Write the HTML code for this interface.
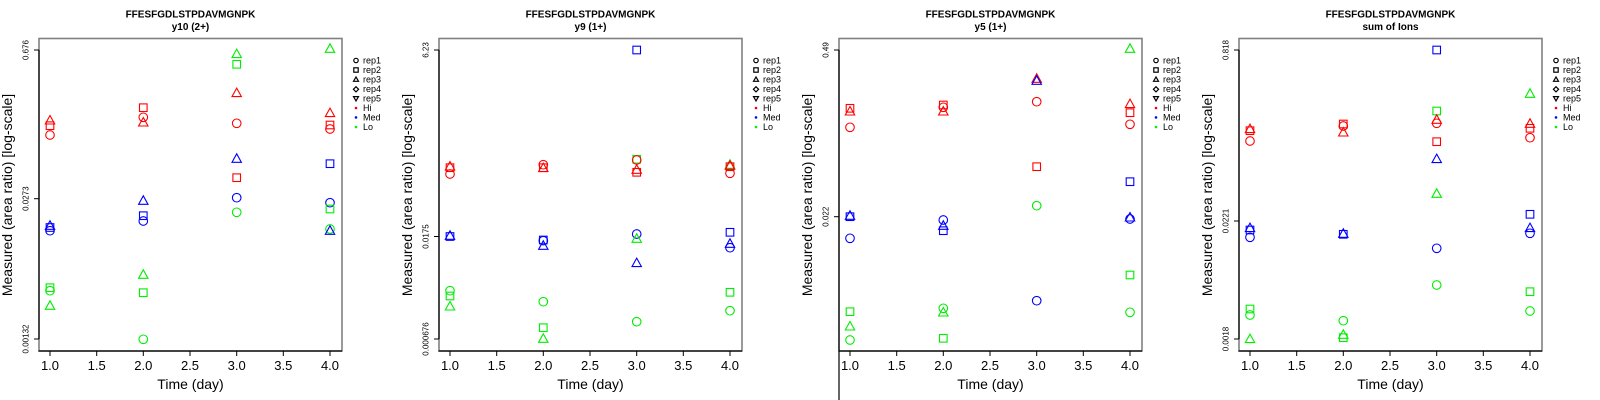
<!DOCTYPE html>
<html><head><meta charset="utf-8"><style>
html,body{margin:0;padding:0;background:#fff;}
svg{display:block;}
text{font-family:"Liberation Sans",sans-serif;}
.t{font-size:10px;font-weight:bold;text-anchor:middle;fill:#000;}
.xt{font-size:13px;text-anchor:middle;fill:#000;}
.xl{font-size:14px;text-anchor:middle;fill:#000;}
.yt{font-size:8px;text-anchor:middle;fill:#000;}
.lg{font-size:9px;fill:#000;}
.R{stroke:#ff0000;fill:none;stroke-width:1.1;}
.B{stroke:#0000ff;fill:none;stroke-width:1.1;}
.G{stroke:#00ee00;fill:none;stroke-width:1.1;}
</style></head><body>
<svg width="1600" height="400" viewBox="0 0 1600 400" xmlns="http://www.w3.org/2000/svg">
<defs>
<circle id="c" cx="0" cy="0" r="4.3"/>
<rect id="s" x="-3.8" y="-3.8" width="7.6" height="7.6"/>
<polygon id="t" points="0,-5.2 -4.7,3.3 4.7,3.3"/>
<g id="frame">
  <rect x="39" y="38.5" width="303" height="312.5" fill="none" stroke="#808080" stroke-width="1.6"/>
  <line x1="38.5" y1="351" x2="342" y2="351" stroke="#000" stroke-width="1.2"/>
  <g stroke="#000" stroke-width="1">
    <line x1="50" y1="351" x2="50" y2="356"/>
    <line x1="96.7" y1="351" x2="96.7" y2="356"/>
    <line x1="143.3" y1="351" x2="143.3" y2="356"/>
    <line x1="190" y1="351" x2="190" y2="356"/>
    <line x1="236.7" y1="351" x2="236.7" y2="356"/>
    <line x1="283.3" y1="351" x2="283.3" y2="356"/>
    <line x1="330" y1="351" x2="330" y2="356"/>
  </g>
  <text class="xt" x="50" y="370">1.0</text>
  <text class="xt" x="96.7" y="370">1.5</text>
  <text class="xt" x="143.3" y="370">2.0</text>
  <text class="xt" x="190" y="370">2.5</text>
  <text class="xt" x="236.7" y="370">3.0</text>
  <text class="xt" x="283.3" y="370">3.5</text>
  <text class="xt" x="330" y="370">4.0</text>
  <text class="xl" x="190.5" y="389">Time (day)</text>
  <text class="xl" transform="translate(12,195) rotate(-90)">Measured (area ratio) [log-scale]</text>
  <g>
    <circle cx="356" cy="60.5" r="2.2" fill="none" stroke="#000" stroke-width="1.2"/>
    <rect x="353.8" y="67.8" width="4.4" height="4.4" fill="none" stroke="#000" stroke-width="1.2"/>
    <polygon points="356,77 353.5,81.3 358.5,81.3" fill="none" stroke="#000" stroke-width="1.2"/>
    <polygon points="356,86.7 358.6,89.3 356,91.9 353.4,89.3" fill="none" stroke="#000" stroke-width="1.2"/>
    <polygon points="353.5,96.6 358.5,96.6 356,100.9" fill="none" stroke="#000" stroke-width="1.2"/>
    <circle cx="356" cy="108" r="1.3" fill="#ff0000"/>
    <circle cx="356" cy="117.4" r="1.3" fill="#0000ff"/>
    <circle cx="356" cy="127" r="1.3" fill="#00ee00"/>
    <text class="lg" x="363" y="63.7">rep1</text>
    <text class="lg" x="363" y="73.2">rep2</text>
    <text class="lg" x="363" y="82.7">rep3</text>
    <text class="lg" x="363" y="92.2">rep4</text>
    <text class="lg" x="363" y="101.7">rep5</text>
    <text class="lg" x="363" y="111.2">Hi</text>
    <text class="lg" x="363" y="120.7">Med</text>
    <text class="lg" x="363" y="130.2">Lo</text>
  </g>
  <text class="t" x="190.5" y="17.5">FFESFGDLSTPDAVMGNPK</text>
</g>
</defs>

<!-- Panel 1 -->
<g transform="translate(0,0)">
<use href="#frame"/>
<text class="t" x="190.5" y="30">y10 (2+)</text>
<line x1="39" y1="50" x2="39" y2="339" stroke="#000" stroke-width="1.2"/>
<g stroke="#000" stroke-width="1"><line x1="34" y1="50" x2="39" y2="50"/><line x1="34" y1="198.7" x2="39" y2="198.7"/><line x1="34" y1="339" x2="39" y2="339"/></g>
<text class="yt" transform="translate(28.5,50) rotate(-90)">0.676</text>
<text class="yt" transform="translate(28.5,198.7) rotate(-90)">0.0273</text>
<text class="yt" transform="translate(28.5,339) rotate(-90)">0.00132</text>
<use href="#t" class="R" x="50" y="120.7"/><use href="#s" class="R" x="50" y="125.7"/><use href="#c" class="R" x="50" y="135"/>
<use href="#t" class="B" x="50" y="226"/><use href="#s" class="B" x="50" y="227.5"/><use href="#c" class="B" x="50" y="230.7"/>
<use href="#s" class="G" x="50" y="287.7"/><use href="#c" class="G" x="50" y="290.7"/><use href="#t" class="G" x="50" y="306"/>
<use href="#s" class="R" x="143.3" y="107.7"/><use href="#c" class="R" x="143.3" y="117.3"/><use href="#t" class="R" x="143.3" y="122.7"/>
<use href="#t" class="B" x="143.3" y="201"/><use href="#s" class="B" x="143.3" y="215.7"/><use href="#c" class="B" x="143.3" y="221"/>
<use href="#t" class="G" x="143.3" y="275"/><use href="#s" class="G" x="143.3" y="292.7"/><use href="#c" class="G" x="143.3" y="339.3"/>
<use href="#t" class="G" x="236.7" y="54.3"/><use href="#s" class="G" x="236.7" y="64.3"/><use href="#t" class="R" x="236.7" y="93.3"/><use href="#c" class="R" x="236.7" y="123.3"/>
<use href="#t" class="B" x="236.7" y="159"/><use href="#s" class="R" x="236.7" y="177.7"/><use href="#c" class="B" x="236.7" y="197.7"/><use href="#c" class="G" x="236.7" y="212.3"/>
<use href="#t" class="G" x="330" y="49"/><use href="#t" class="R" x="330" y="113.3"/><use href="#s" class="R" x="330" y="125"/><use href="#c" class="R" x="330" y="129"/>
<use href="#s" class="B" x="330" y="163.7"/><use href="#c" class="B" x="330" y="202.7"/><use href="#s" class="G" x="330" y="209"/><use href="#c" class="G" x="330" y="229"/><use href="#t" class="B" x="330" y="231"/>
</g>

<!-- Panel 2 -->
<g transform="translate(400,0)">
<use href="#frame"/>
<text class="t" x="190.5" y="30">y9 (1+)</text>
<line x1="39" y1="50" x2="39" y2="339" stroke="#000" stroke-width="1.2"/>
<g stroke="#000" stroke-width="1"><line x1="34" y1="50" x2="39" y2="50"/><line x1="34" y1="236.5" x2="39" y2="236.5"/><line x1="34" y1="339" x2="39" y2="339"/></g>
<text class="yt" transform="translate(28.5,50) rotate(-90)">6.23</text>
<text class="yt" transform="translate(28.5,236.5) rotate(-90)">0.0175</text>
<text class="yt" transform="translate(28.5,339) rotate(-90)">0.000676</text>
<use href="#t" class="R" x="50" y="166.7"/><use href="#s" class="R" x="50" y="167.7"/><use href="#c" class="R" x="50" y="174"/>
<use href="#s" class="B" x="50" y="236.5"/><use href="#t" class="B" x="50" y="236"/>
<use href="#c" class="G" x="50" y="290.7"/><use href="#s" class="G" x="50" y="296"/><use href="#t" class="G" x="50" y="306.7"/>
<use href="#c" class="R" x="143.3" y="164.7"/><use href="#s" class="R" x="143.3" y="167.7"/><use href="#t" class="R" x="143.3" y="168.3"/>
<use href="#s" class="B" x="143.3" y="240"/><use href="#c" class="B" x="143.3" y="240.7"/><use href="#t" class="B" x="143.3" y="246"/>
<use href="#c" class="G" x="143.3" y="301.7"/><use href="#s" class="G" x="143.3" y="327.7"/><use href="#t" class="G" x="143.3" y="339"/>
<use href="#s" class="B" x="236.7" y="50"/><use href="#s" class="G" x="236.7" y="159.3"/><use href="#c" class="R" x="236.7" y="160"/><use href="#t" class="R" x="236.7" y="170"/><use href="#s" class="R" x="236.7" y="172.3"/>
<use href="#c" class="B" x="236.7" y="234"/><use href="#t" class="G" x="236.7" y="239"/><use href="#t" class="B" x="236.7" y="263.3"/><use href="#c" class="G" x="236.7" y="321.7"/>
<use href="#t" class="G" x="330" y="165"/><use href="#t" class="R" x="330" y="166"/><use href="#s" class="R" x="330" y="166.7"/><use href="#c" class="R" x="330" y="173.3"/>
<use href="#s" class="B" x="330" y="232.3"/><use href="#t" class="B" x="330" y="244"/><use href="#c" class="B" x="330" y="247.7"/><use href="#s" class="G" x="330" y="292.3"/><use href="#c" class="G" x="330" y="310.7"/>
</g>

<!-- Panel 3 -->
<g transform="translate(800,0)">
<use href="#frame"/>
<text class="t" x="190.5" y="30">y5 (1+)</text>
<line x1="39" y1="50" x2="39" y2="400" stroke="#000" stroke-width="1.2"/>
<g stroke="#000" stroke-width="1"><line x1="34" y1="50" x2="39" y2="50"/><line x1="34" y1="216.7" x2="39" y2="216.7"/></g>
<text class="yt" transform="translate(28.5,50) rotate(-90)">0.49</text>
<text class="yt" transform="translate(28.5,216.7) rotate(-90)">0.022</text>
<use href="#s" class="R" x="50" y="108.3"/><use href="#t" class="R" x="50" y="111.7"/><use href="#c" class="R" x="50" y="127.3"/>
<use href="#s" class="B" x="50" y="216.7"/><use href="#t" class="B" x="50" y="216"/><use href="#c" class="B" x="50" y="238.3"/>
<use href="#s" class="G" x="50" y="311.7"/><use href="#t" class="G" x="50" y="326.7"/><use href="#c" class="G" x="50" y="340"/>
<use href="#s" class="R" x="143.3" y="105"/><use href="#c" class="R" x="143.3" y="107.3"/><use href="#t" class="R" x="143.3" y="111.7"/>
<use href="#c" class="B" x="143.3" y="220"/><use href="#t" class="B" x="143.3" y="226"/><use href="#s" class="B" x="143.3" y="230.7"/>
<use href="#c" class="G" x="143.3" y="308.3"/><use href="#t" class="G" x="143.3" y="312.7"/><use href="#s" class="G" x="143.3" y="338.3"/>
<use href="#t" class="R" x="236.7" y="79"/><use href="#t" class="B" x="236.7" y="81"/><use href="#c" class="R" x="236.7" y="101.7"/><use href="#s" class="R" x="236.7" y="166.7"/>
<use href="#c" class="G" x="236.7" y="205.7"/><use href="#c" class="B" x="236.7" y="300.7"/>
<use href="#t" class="G" x="330" y="49"/><use href="#t" class="R" x="330" y="104.3"/><use href="#s" class="R" x="330" y="112.7"/><use href="#c" class="R" x="330" y="124.3"/>
<use href="#s" class="B" x="330" y="181.7"/><use href="#t" class="B" x="330" y="217.7"/><use href="#c" class="B" x="330" y="219"/><use href="#s" class="G" x="330" y="275"/><use href="#c" class="G" x="330" y="312.3"/>
</g>

<!-- Panel 4 -->
<g transform="translate(1200,0)">
<use href="#frame"/>
<text class="t" x="190.5" y="30">sum of Ions</text>
<line x1="39" y1="50" x2="39" y2="339" stroke="#000" stroke-width="1.2"/>
<g stroke="#000" stroke-width="1"><line x1="34" y1="50" x2="39" y2="50"/><line x1="34" y1="221" x2="39" y2="221"/><line x1="34" y1="339" x2="39" y2="339"/></g>
<text class="yt" transform="translate(28.5,50) rotate(-90)">0.818</text>
<text class="yt" transform="translate(28.5,221) rotate(-90)">0.0221</text>
<text class="yt" transform="translate(28.5,339) rotate(-90)">0.0018</text>
<use href="#t" class="R" x="50" y="129.3"/><use href="#s" class="R" x="50" y="130.7"/><use href="#c" class="R" x="50" y="141"/>
<use href="#t" class="B" x="50" y="228.3"/><use href="#s" class="B" x="50" y="230"/><use href="#c" class="B" x="50" y="237.3"/>
<use href="#s" class="G" x="50" y="309"/><use href="#c" class="G" x="50" y="315"/><use href="#t" class="G" x="50" y="339.3"/>
<use href="#s" class="R" x="143.3" y="124"/><use href="#c" class="R" x="143.3" y="126"/><use href="#t" class="R" x="143.3" y="132.7"/>
<use href="#t" class="B" x="143.3" y="234"/><use href="#s" class="B" x="143.3" y="234.3"/>
<use href="#c" class="G" x="143.3" y="320.7"/><use href="#t" class="G" x="143.3" y="335"/><use href="#s" class="G" x="143.3" y="337.7"/>
<use href="#s" class="B" x="236.7" y="50"/><use href="#s" class="G" x="236.7" y="111"/><use href="#t" class="R" x="236.7" y="120"/><use href="#c" class="R" x="236.7" y="123.3"/>
<use href="#s" class="R" x="236.7" y="141.7"/><use href="#t" class="B" x="236.7" y="159.3"/><use href="#t" class="G" x="236.7" y="194"/><use href="#c" class="B" x="236.7" y="248.3"/><use href="#c" class="G" x="236.7" y="285"/>
<use href="#t" class="G" x="330" y="94"/><use href="#t" class="R" x="330" y="124"/><use href="#s" class="R" x="330" y="128.3"/><use href="#c" class="R" x="330" y="137.7"/>
<use href="#s" class="B" x="330" y="214.3"/><use href="#t" class="B" x="330" y="228.3"/><use href="#c" class="B" x="330" y="233.3"/><use href="#s" class="G" x="330" y="291.7"/><use href="#c" class="G" x="330" y="311"/>
</g>
</svg>
</body></html>
